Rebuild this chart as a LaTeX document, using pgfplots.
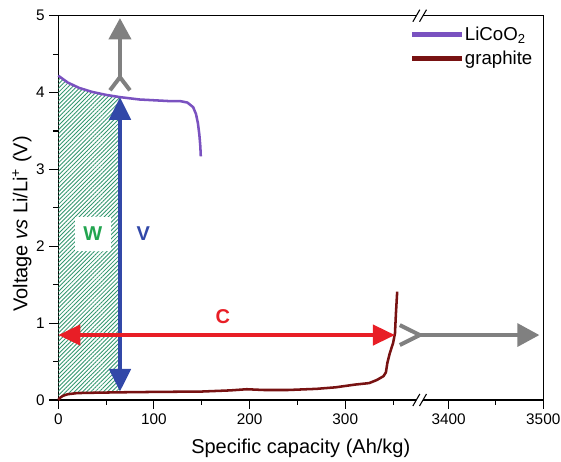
\documentclass[border=0pt]{standalone}
\usepackage{pgfplots}
\pgfplotsset{compat=1.18}
\usepackage{fontspec}
\setmainfont{Liberation Sans}
\usetikzlibrary{arrows.meta,patterns.meta,calc}
\definecolor{licoo}{RGB}{122,82,192}
\definecolor{graph}{RGB}{120,18,18}
\definecolor{hatchg}{RGB}{50,150,110}
\definecolor{wgreen}{RGB}{35,165,80}
\definecolor{varrow}{RGB}{50,72,168}
\definecolor{carrow}{RGB}{232,30,38}
\definecolor{garrow}{RGB}{128,128,128}
\begin{document}
\begin{tikzpicture}
\begin{axis}[name=ax, scale only axis, width=363.75pt, height=288.2pt,
  xmin=0, xmax=507, ymin=0, ymax=5,
  xtick={0,100,200,300,408,507}, xticklabels={0,100,200,300,3400,3500},
  minor xtick={50,150,250,350,457.5},
  ytick={0,1,2,3,4,5}, minor ytick={0.5,1.5,2.5,3.5,4.5},
  tick align=outside, tick pos=left,
  major tick length=6.75pt, minor tick length=3.75pt,
  every tick/.style={black, line width=0.8pt},
  axis line style={line width=0.9pt},
  /pgf/number format/assume math mode=true,
  ticklabel style={font=\fontsize{11.5}{13}\selectfont},
  xlabel={Specific capacity (Ah/kg)},
  ylabel={Voltage \textit{vs} Li/Li\textsuperscript{+} (V)},
  label style={font=\fontsize{15}{18}\selectfont},
  xlabel style={at={(axis description cs:0.5,-0.125)}, anchor=center},
  ylabel style={at={(axis description cs:-0.075,0.458)}, anchor=center},
  clip=false,
  legend style={at={(rel axis cs:0.72,0.985)}, anchor=north west, draw=none, fill=none,
    font=\fontsize{14}{16}\selectfont, row sep=2pt},
  legend cell align=left,
]
% hatched area
\addplot[draw=none, pattern={Lines[angle=45,distance=2.2pt,line width=0.65pt]}, pattern color=hatchg, forget plot]
coordinates {(0,0) (0,4.22) (10,4.13) (22,4.06) (35,4.01) (50,3.97) (64.5,3.945)
 (64.5,0.1) (40,0.095) (20,0.09) (10,0.075) (5,0.055) (2,0.03) (0,0)} -- cycle;
% curves
\addplot[licoo, line width=1.9pt,
  legend image code/.code={\fill[licoo] (0pt,-1pt) rectangle (36pt,1pt);}]
coordinates {(0,4.22) (10,4.13) (22,4.06) (35,4.01) (50,3.97) (65,3.94) (85,3.91) (100,3.90) (115,3.89) (127,3.89) (135,3.87) (141,3.81) (144,3.72) (146,3.6) (147.5,3.45) (148.5,3.3) (149,3.17)};
\addlegendentry{LiCoO\textsubscript{2}}
\addplot[graph, line width=1.9pt,
  legend image code/.code={\fill[graph] (0pt,-1pt) rectangle (36pt,1pt);}]
coordinates {(0,0) (2,0.03) (5,0.055) (10,0.075) (20,0.09) (40,0.095) (65,0.1) (100,0.105) (150,0.11) (180,0.125) (197,0.14) (215,0.13) (240,0.13) (270,0.145) (290,0.165) (310,0.2) (325,0.22) (333,0.26) (340,0.31) (342.5,0.36) (344,0.48) (346.6,0.61) (350,0.74) (352,0.87) (353,1.13) (354.3,1.41)};
\addlegendentry{graphite}
% arrows
\addplot[varrow, line width=3pt, {Triangle[length=17pt,width=16pt]}-{Triangle[length=17pt,width=16pt]}, forget plot]
coordinates {(64.5,0.11) (64.5,3.94)};
\addplot[carrow, line width=3pt, {Triangle[length=16.5pt,width=15pt]}-{Triangle[length=16.5pt,width=15pt]}, forget plot]
coordinates {(0,0.845) (352,0.845)};
\addplot[garrow, line width=3pt, -{Triangle[length=16pt,width=16.5pt]}, forget plot]
coordinates {(64.5,4.2) (64.5,4.97)};
\addplot[garrow, line width=3pt, forget plot]
coordinates {(54.1,4.03) (64.5,4.2) (74.9,4.03)};
\addplot[garrow, line width=3pt, -{Triangle[length=16.5pt,width=17pt]}, forget plot]
coordinates {(378,0.845) (503,0.845)};
\addplot[garrow, line width=3pt, forget plot]
coordinates {(357,0.975) (378,0.845) (357,0.715)};
% labels
\node[fill=white, text=wgreen, font=\fontsize{15}{18}\selectfont\bfseries, minimum width=27pt, minimum height=26pt, inner sep=0pt] at (axis cs:36,2.16) {W};
\node[text=varrow, font=\fontsize{15}{18}\selectfont\bfseries] at (axis cs:89,2.16) {V};
\node[text=carrow, font=\fontsize{15}{18}\selectfont\bfseries] at (axis cs:172,1.09) {C};
% axis breaks
\fill[white] ([xshift=-2.5pt,yshift=-1.5pt]axis cs:377.8,0) rectangle ([xshift=2.5pt,yshift=1.5pt]axis cs:377.8,0);
\draw[line width=0.8pt] ([xshift=-5.1pt,yshift=-4.5pt]axis cs:377.8,0) -- ++(5.2pt,9pt);
\draw[line width=0.8pt] ([xshift=-0.1pt,yshift=-4.5pt]axis cs:377.8,0) -- ++(5.2pt,9pt);
\fill[white] ([xshift=-2.5pt,yshift=-1.5pt]axis cs:377.8,5) rectangle ([xshift=2.5pt,yshift=1.5pt]axis cs:377.8,5);
\draw[line width=0.8pt] ([xshift=-5.1pt,yshift=-4.5pt]axis cs:377.8,5) -- ++(5.2pt,9pt);
\draw[line width=0.8pt] ([xshift=-0.1pt,yshift=-4.5pt]axis cs:377.8,5) -- ++(5.2pt,9pt);
\end{axis}
\pgfresetboundingbox
\path[use as bounding box] ($(ax.south west)+(-43.7pt,-46.5pt)$) rectangle ($(ax.north east)+(13.3pt,11.8pt)$);
\end{tikzpicture}
\end{document}
